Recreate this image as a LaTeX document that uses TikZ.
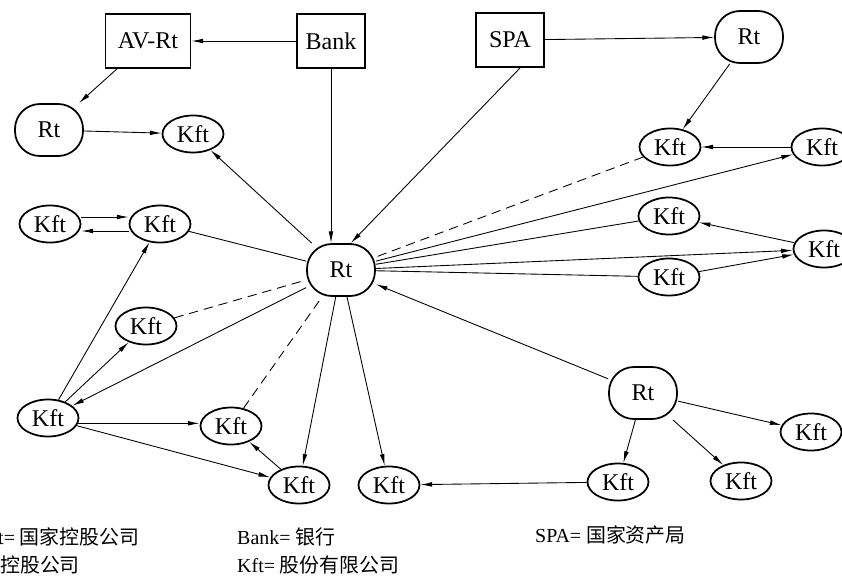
\documentclass[tikz,border=0pt]{standalone}
\usepackage{fontspec}
\setmainfont{Liberation Serif}
\newfontfamily\cjk{Noto Sans CJK SC}
\usetikzlibrary{shapes.geometric,arrows.meta}

\tikzset{
  >={Latex[length=10pt,width=4pt]},
  rtnode/.style={rectangle, rounded corners=0.75cm, draw=black, line width=1.5pt, minimum width=2.04cm, minimum height=1.56cm, font=\fontsize{20.5}{24}\selectfont},
  kft/.style={ellipse, draw=black, line width=1.5pt, minimum width=1.83cm, minimum height=1.11cm, inner sep=0pt, font=\fontsize{20.5}{24}\selectfont},
  boxnode/.style={rectangle, draw=black, line width=1.5pt, minimum width=2.04cm, minimum height=1.62cm, font=\fontsize{20.5}{24}\selectfont},
  conn/.style={line width=0.75pt},
  dashconn/.style={conn, dash pattern=on 8pt off 5pt},
  legend/.style={anchor=west, inner sep=0pt, font=\fontsize{17}{20}\selectfont}
}

\begin{document}
\begin{tikzpicture}[x=0.03cm, y=-0.03cm]
    \useasboundingbox (0,0) rectangle (842,577);
    \clip (0,0) rectangle (842,577);
    % owners
    \node (avrt) [boxnode, minimum width=2.55cm] at (148,41) {AV-Rt};
    \node (bank) [boxnode] at (331,41) {Bank};
    \node (spa) [boxnode] at (510,40) {SPA};
    % holdings
    \node (rtA) [rtnode] at (749,37) {Rt};
    \node (rtB) [rtnode] at (49,130) {Rt};
    \node (rt) [rtnode] at (341,270) {Rt};
    \node (rtC) [rtnode] at (643,393) {Rt};
    % companies
    \node (k1) [kft] at (193,134) {Kft};
    \node (k2) [kft] at (670,147) {Kft};
    \node (k3) [kft] at (822,147) {Kft};
    \node (k4) [kft] at (50,224) {Kft};
    \node (k5) [kft] at (160,224) {Kft};
    \node (k6) [kft] at (669,216) {Kft};
    \node (k7) [kft] at (824,249) {Kft};
    \node (k8) [kft] at (669,277) {Kft};
    \node (k9) [kft] at (146,326) {Kft};
    \node (k10) [kft] at (48,418) {Kft};
    \node (k11) [kft] at (231,426) {Kft};
    \node (k12) [kft] at (299,485) {Kft};
    \node (k13) [kft] at (389,485) {Kft};
    \node (k14) [kft] at (618,482) {Kft};
    \node (k15) [kft] at (741,481) {Kft};
    \node (k16) [kft] at (811,432) {Kft};

    \draw [conn,->] (bank) -- (avrt);
    \draw [conn,->] (avrt) -- (rtB);
    \draw [conn,->] (rtB) -- (k1);
    \draw [conn,->] (bank) -- (bank |- rt.north);
    \draw [conn,->] (spa.-70) -- (rt.70);
    \draw [conn,->] (spa) -- (rtA);
    \draw [conn,->] (rtA) -- (k2);
    \draw [conn,->] (k3) -- (k2);
    \draw [conn,->] (rt) -- (k3);
    \draw [dashconn] (k2) -- (rt);
    \draw [conn,->] (rt) -- (k1);
    \draw [conn,->] ([yshift=0.21cm]k4.east) -- ([yshift=0.21cm]k5.west);
    \draw [conn,->] ([yshift=-0.21cm]k5.west) -- ([yshift=-0.21cm]k4.east);
    \draw [conn] (k5) -- (rt);
    \draw [conn] (rt) -- (k6);
    \draw [conn,->] (rt) -- (k7);
    \draw [conn] (rt) -- (k8);
    \draw [conn,->] (k7) -- (k6);
    \draw [conn,->] (k8) -- (k7);
    \draw [conn,->] (rtC) -- (rt);
    \draw [conn,->] (rt) -- (k10);
    \draw [dashconn] (k9) -- (rt);
    \draw [conn,->] (k10) -- (k5);
    \draw [conn,->] (k10) -- (k9);
    \draw [conn,->] (k10.-10) -- (k10.-10 -| k11.west);
    \draw [conn,->] (k10) -- (k12);
    \draw [conn,->] (k12) -- (k11);
    \draw [dashconn] (k11) -- (rt);
    \draw [conn,->] (rt) -- (k12);
    \draw [conn,->] (rt) -- (k13);
    \draw [conn,->] (k14) -- (k13);
    \draw [conn,->] (rtC) -- (k14);
    \draw [conn,->] (rtC) -- (k15);
    \draw [conn,->] (rtC) -- (k16);

    % legend
    \node (lgRt) [legend] at (-2,537) {t= \cjk 国家控股公司};
    \node (lgAV) [legend] at (0,565) {\cjk 控股公司};
    \node (lgBank) [legend] at (237,537) {Bank= \cjk 银行};
    \node (lgKft) [legend] at (237,565) {Kft= \cjk 股份有限公司};
    \node (lgSPA) [legend] at (535,535) {SPA= \cjk 国家资产局};
\end{tikzpicture}
\end{document}
